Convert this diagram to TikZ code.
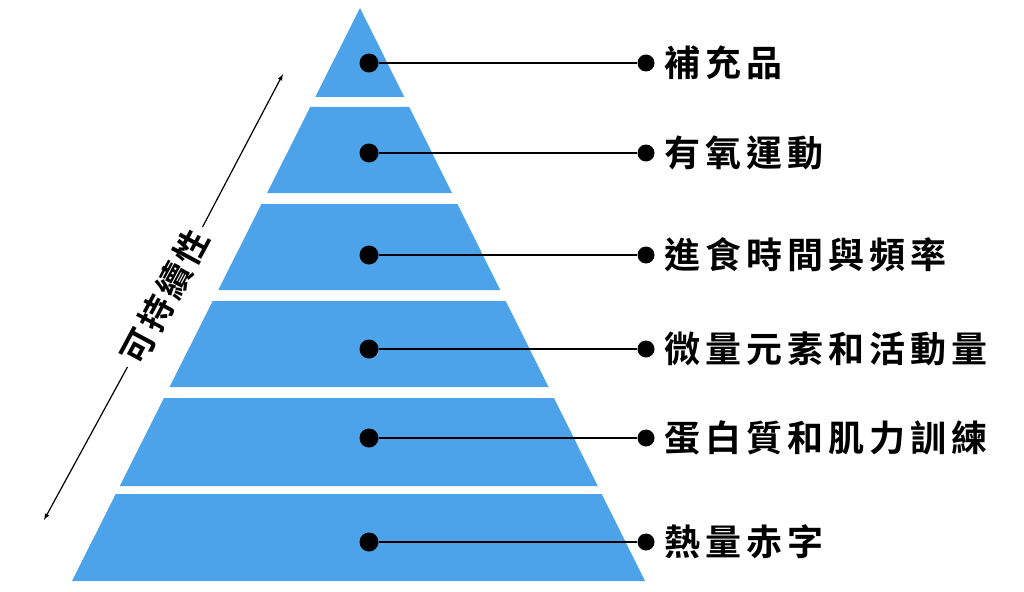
\documentclass[tikz,border=0pt]{standalone}
\usepackage{fontspec}
\newfontfamily\cjk[LetterSpace=14]{Noto Sans CJK TC Bold}
\newfontfamily\cjks[LetterSpace=10]{Noto Sans CJK TC Bold}
\definecolor{pyr}{HTML}{4CA3E9}
\begin{document}
\begin{tikzpicture}[x=1pt,y=-1pt,
  layer/.style={fill=pyr,draw=none},
  dot/.style={circle,fill=black,inner sep=0pt,minimum size=19pt},
  lbl/.style={anchor=west,font=\cjk\fontsize{36}{40}\selectfont,inner sep=0pt},
  conn/.style={line width=1.2pt}]
\useasboundingbox (0,0) rectangle (1024,591);
\def\L#1{360-0.5026*(#1-8)}
\def\R#1{360+0.4974*(#1-8)}
\foreach \a/\b in {8/97,107/193,204/290,301/387,398/486,494/581}{
  \fill[layer] ({\L{\a}},\a) -- ({\R{\a}},\a) -- ({\R{\b}},\b) -- ({\L{\b}},\b) -- cycle;
}
\foreach \i/\y/\t in {1/63/補充品,2/153/有氧運動,3/255/進食時間與頻率,4/349/微量元素和活動量,5/438/蛋白質和肌力訓練,6/542/熱量赤字}{
  \node[dot] (a\i) at (369,\y) {};
  \node[dot,minimum size=17pt] (b\i) at (646,\y) {};
  \draw[conn] (a\i) -- (b\i);
  \node[lbl] (t\i) at (664,\y) {\t};
}
\coordinate (p) at (44,520);
\coordinate (q) at (283,74);
\node[font=\cjks\fontsize{34}{38}\selectfont,rotate=61.8,fill=white,inner sep=6pt] (s) at (165,297) {可持續性};
\draw[line width=1.2pt,-latex] (s.west) -- (p);
\draw[line width=1.2pt,-latex] (s.east) -- (q);
\end{tikzpicture}
\end{document}
